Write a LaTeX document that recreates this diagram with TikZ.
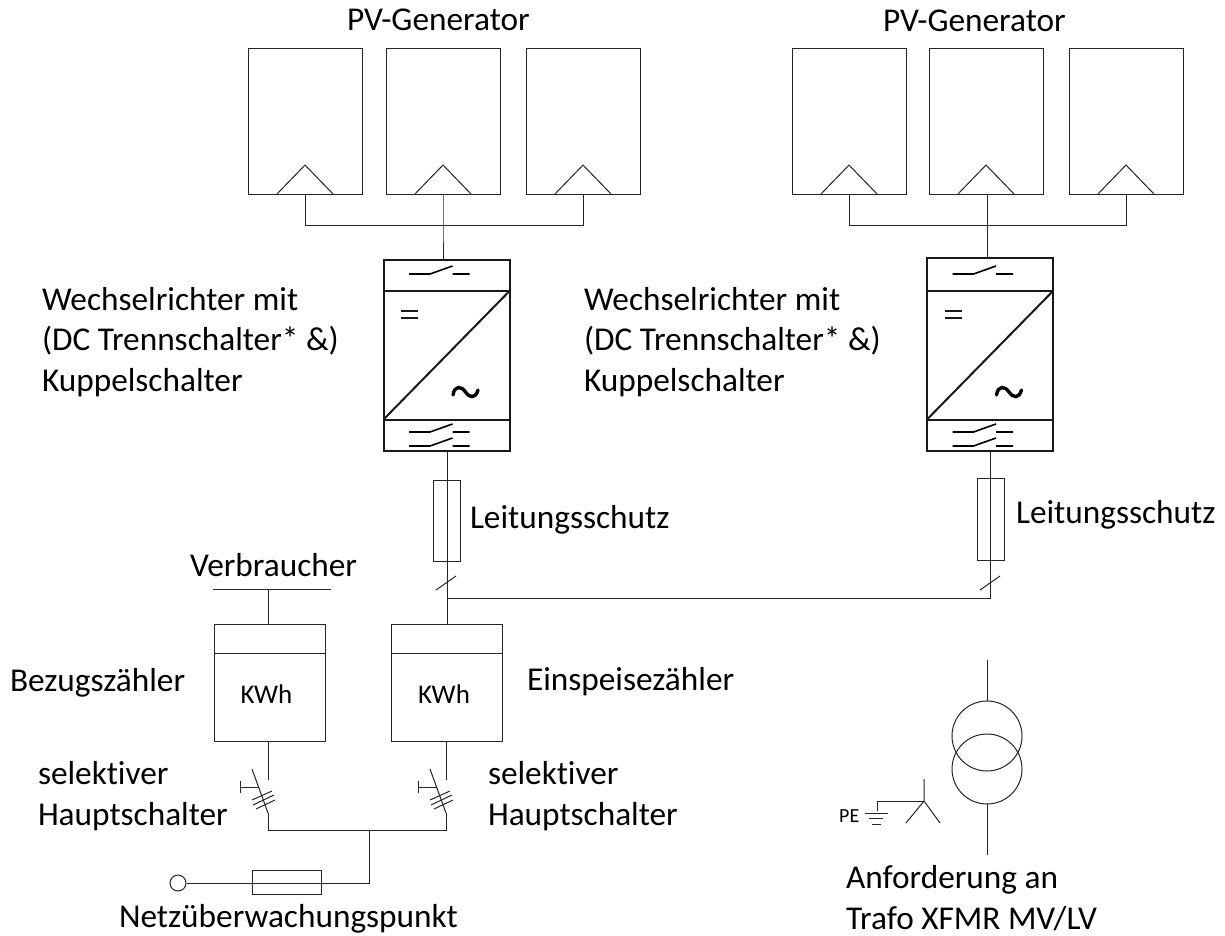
\documentclass[tikz,border=0pt]{standalone}
\usepackage{fontspec}
\setmainfont{Carlito}[Ligatures=NoCommon]
\usetikzlibrary{calc}
\tikzset{
  wire/.style={line width=1pt,draw=black!85},
  thick wire/.style={line width=2pt,draw=black!90},
  boxn/.style={draw=black!85,line width=1pt,inner sep=0pt,outer sep=0pt,rectangle},
  panel/.style={boxn,minimum width=114pt,minimum height=145pt},
  meter/.style={boxn,minimum width=111pt,minimum height=117pt},
  lbl/.style={font=\fontsize{33.3}{40.5}\selectfont,inner sep=0pt,outer sep=0pt,anchor=base west,align=left},
  kwh/.style={font=\fontsize{27}{30}\selectfont,inner sep=0pt,anchor=base},
}
\newcommand{\pvtri}[1]{\draw[wire] ($(#1.south)+(-28,0)$) -- ($(#1.south)+(0,-29)$) -- ($(#1.south)+(28,0)$);}
% #1 left x, #2 top y, #3 name
\newcommand{\invdraw}[3]{%
  \begin{scope}[shift={(#1,0)}]
    \coordinate (#3tl) at (0,#2);
    \coordinate (#3br) at (126,451);
    \coordinate (#3n) at (63,#2);
    \draw[thick wire] (#3tl) rectangle (#3br);
    \draw[thick wire] (0,291) -- (126,291);
    \draw[thick wire] (0,419.5) -- (126,419.5);
    \draw[thick wire] (0,419.5) -- (126,291);
    \draw[line width=1.6pt] (25.5,274) -- (46.5,274) -- (69,266) (69,274) -- (86,274);
    \draw[thick wire] (17.5,311) -- (34.5,311) (17.5,318) -- (34.5,318);
    \draw[line width=3.4pt,line cap=round] (69.5,395) .. controls (71,385) and (78,386) .. (82,392) .. controls (86,398) and (92,399) .. (94.5,390);
    \draw[line width=1.6pt] (25.5,432) -- (46.5,432) -- (69,424) (69,432) -- (86,432);
    \draw[line width=1.6pt] (25.5,446) -- (46.5,446) -- (69,438) (69,446) -- (86,446);
  \end{scope}}
\newcommand{\hsw}[1]{%
  \begin{scope}[shift={(#1)}]
    \draw[wire] (-16,-44) -- (0,0);
    \draw[wire] (-28,-26) -- (-9,-26) (-28,-32) -- (-28,-20);
    \draw[wire] (-16,-13) -- (4,-22) (-15,-8) -- (6,-18) (-12,-4) -- (7,-13);
  \end{scope}}
\begin{document}
\begin{tikzpicture}[x=1pt,y=-1pt]
\useasboundingbox (0,0) rectangle (1225,936);
\fill[white] (0,0) rectangle (1225,936);
% PV panels
\node[panel] (p1) at (305,121.5) {};
\node[panel] (p2) at (443,121.5) {};
\node[panel] (p3) at (583,121.5) {};
\node[panel] (p4) at (849,121.5) {};
\node[panel] (p5) at (986,121.5) {};
\node[panel] (p6) at (1126,121.5) {};
\pvtri{p1}\pvtri{p2}\pvtri{p3}\pvtri{p4}\pvtri{p5}\pvtri{p6}
\node[lbl] (g1) at (347,31) {PV-Generator};
\node[lbl] (g2) at (883,32) {PV-Generator};
% inverters
\invdraw{383.5}{260}{ia}
\invdraw{927}{258}{ib}
\coordinate (b1) at (305,225);
\coordinate (b2) at (443,225);
\coordinate (b3) at (583,225);
\coordinate (b4) at (849,225);
\coordinate (b5) at (987,225);
\coordinate (b6) at (1126,225);
\draw[wire] (p1.south) -- (b1) -- (b3) -- (p3.south);
\draw[wire] (p2.south) -- (b2) -- (443,260);
\draw[wire] (p4.south) -- (b4) -- (b6) -- (p6.south);
\draw[wire] (987,194) -- (b5) -- (987,258);
% fuses
\node[boxn,minimum width=27pt,minimum height=81pt] (f1) at (446.5,520.5) {};
\node[boxn,minimum width=27pt,minimum height=82pt] (f2) at (990.5,519) {};
% meters
\node[meter] (m1) at (269.5,682.5) {};
\node[meter] (m2) at (446.5,682.5) {};
\draw[wire] (m1.north west)++(0,29) -- ++(111,0);
\draw[wire] (m2.north west)++(0,29) -- ++(111,0);
\node[kwh] (k1) at (266.5,703) {KWh};
\node[kwh] (k2) at (444,703) {KWh};
% main lines
\coordinate (j1) at (447,598);
\coordinate (j2) at (990,598);
\draw[wire] (447,451) -- (447,624);
\draw[wire] (990,451) -- (j2) -- (j1);
\draw[wire] (436,590) -- (456,576);
\draw[wire] (980,590) -- (1000,576);
% Verbraucher
\node[lbl] (v) at (190,576) {Verbraucher};
\coordinate (vb) at (268,589);
\draw[wire] (213,589) -- (331,589);
\draw[wire] (vb) -- (vb |- m1.north);
% switches
\coordinate (s1) at (268,813);
\coordinate (s2) at (446,813);
\hsw{268,813}
\hsw{446,813}
\draw[wire] (268,741) -- (268,780);
\draw[wire] (446,741) -- (446,780);
\coordinate (b) at (369,830);
\draw[wire] (s1) -- (268,830) -- (446,830) -- (s2);
% fuse + circle
\node[boxn,minimum width=69pt,minimum height=24pt] (f3) at (286.5,882) {};
\node[circle,draw=black!85,line width=1pt,inner sep=0pt,minimum size=16pt] (c) at (178,883) {};
\draw[wire] (b) |- (c.east);
% transformer
\node[circle,draw=black!85,line width=1pt,inner sep=0pt,outer sep=0pt,minimum size=70pt] (t1) at (987,736) {};
\node[circle,draw=black!85,line width=1pt,inner sep=0pt,outer sep=0pt,minimum size=70pt] (t2) at (987,769) {};
\coordinate (tt) at (987,660);
\coordinate (tb) at (987,855);
\draw[wire] (tt) -- (t1.north);
\draw[wire] (t2.south) -- (tb);
% star
\coordinate (st) at (924,801);
\draw[wire] (924,779) -- (st) -- (906,823) (st) -- (940,823);
\draw[wire] (st) -- (877,801) -- (877,811);
\draw[wire] (865,813) -- (888,813) (869,818.5) -- (883,818.5) (872,824) -- (881,824);
\node[inner sep=0pt,anchor=base west,font=\fontsize{20}{22}\selectfont] (pe) at (839,822) {PE};
% labels
\node[lbl] (w1) at (42,391) {Wechselrichter mit\\(DC Trennschalter* \&)\\Kuppelschalter};
\node[lbl] (w2) at (584,391) {Wechselrichter mit\\(DC Trennschalter* \&)\\Kuppelschalter};
\node[lbl] (l1) at (470,528) {Leitungsschutz};
\node[lbl] (l2) at (1016,523) {Leitungsschutz};
\node[lbl] (bz) at (10,691) {Bezugszähler};
\node[lbl] (ez) at (527,690) {Einspeisezähler};
\node[lbl] (h1) at (38,825) {selektiver\\Hauptschalter};
\node[lbl] (h2) at (488,825) {selektiver\\Hauptschalter};
\node[lbl] (n) at (119,927) {Netzüberwachungspunkt};
\node[lbl] (a) at (846,929) {Anforderung an\\Trafo XFMR MV/LV};
\end{tikzpicture}
\end{document}
